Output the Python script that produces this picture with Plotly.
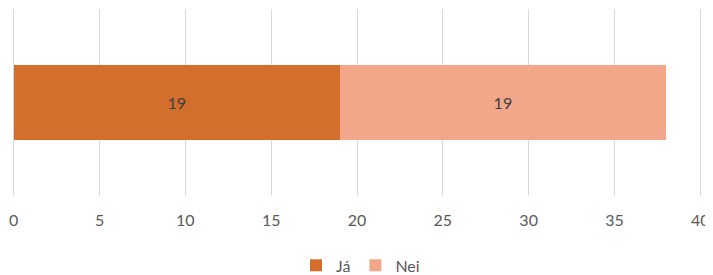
import plotly.graph_objects as go

categories = [""]
series_names = ["Já", "Nei"]
ja_values = [19]
nei_values = [19]
x_ticks = [0, 5, 10, 15, 20, 25, 30, 35, 40]

colors = ["#D36E2C", "#F2A78A"]
font_family = "Lato, 'Open Sans', sans-serif"

fig = go.Figure()
for name, vals, col in zip(series_names, [ja_values, nei_values], colors):
    fig.add_trace(go.Bar(
        y=categories, x=vals, name=name, orientation="h",
        marker=dict(color=col, line=dict(width=0)),
        text=[str(v) for v in vals], textposition="inside",
        insidetextanchor="middle",
        textfont=dict(color="#404040", size=16, family=font_family),
        width=0.4,
    ))

# page has an 8px body margin: figure drawn at (8, 8)
fig.update_layout(
    barmode="stack",
    width=705, height=267,
    margin=dict(l=4, r=11, t=1, b=79),
    plot_bgcolor="white", paper_bgcolor="white",
    font=dict(family=font_family, color="#595959", size=16),
    showlegend=True,
    legend=dict(orientation="h", x=0.5, xanchor="center", xref="container",
                y=0.036, yanchor="middle", yref="container",
                font=dict(size=16, color="#595959"), traceorder="normal",
                itemwidth=30, tracegroupgap=0),
    bargap=0.6,
)
fig.update_xaxes(range=[-0.1, 40.1], tickvals=x_ticks, showgrid=True, gridcolor="#D9D9D9",
                 gridwidth=1, zeroline=False, ticks="outside", ticklen=10,
                 tickcolor="rgba(0,0,0,0)", showline=False, automargin=False)
fig.update_yaxes(showticklabels=False, showgrid=False, zeroline=False, range=[-0.5, 0.5],
                 automargin=False)

fig.write_html("out.html")
